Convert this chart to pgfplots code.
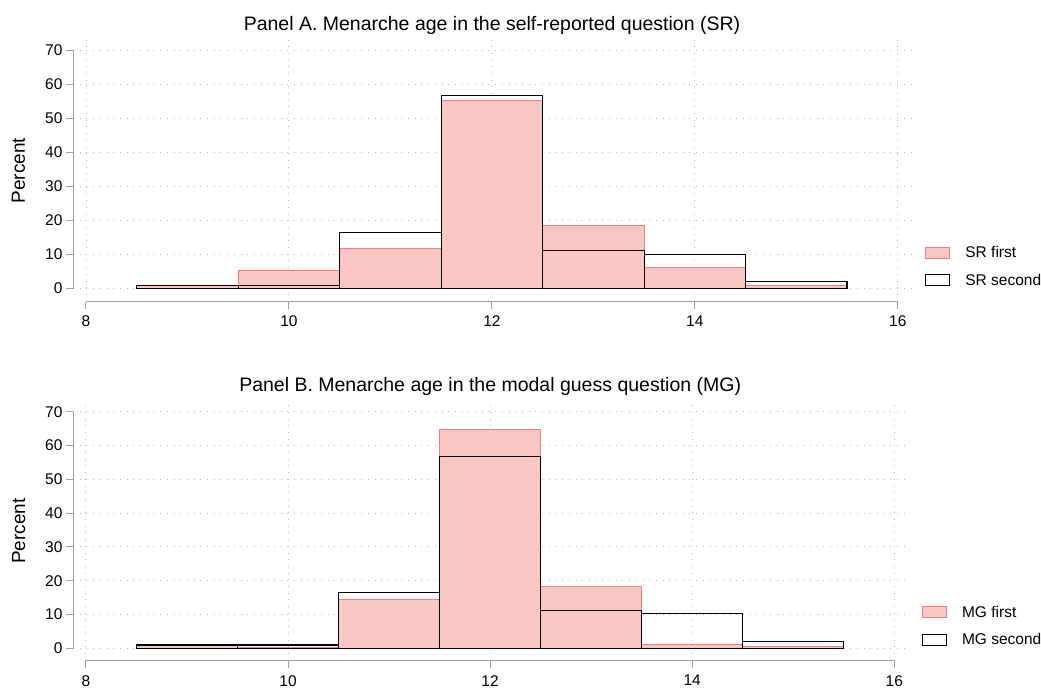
\documentclass[border=0pt]{standalone}
\usepackage{pgfplots}
\pgfplotsset{compat=1.18}
\usepackage{fontspec}
\setmainfont{Liberation Sans}

\definecolor{barpink}{RGB}{249,198,195}
\definecolor{edgepink}{RGB}{242,128,122}
\definecolor{axisgray}{RGB}{160,160,160}
\definecolor{gridgray}{RGB}{185,185,185}

\pgfplotsset{
  menarche/.style={
    scale only axis,
    xmin=7.872, xmax=16.13, ymax=73,
    xtick={8,10,...,16}, ytick={0,10,...,70},
    axis x line*=bottom, axis y line*=left,
    axis line style={draw=none},
    tick align=outside, major tick length=7pt,
    tick style={axisgray, line width=1pt},
    xmajorgrids, ymajorgrids,
    grid style={gridgray, line width=0.9pt, dash pattern=on 1pt off 5.7pt},
    tick label style={font=\fontsize{15.5}{18}\selectfont, black},
    xticklabel style={yshift=-4pt},
    /pgf/number format/assume math mode=true,
    ylabel={Percent},
    label style={font=\fontsize{19}{22}\selectfont},
    title style={font=\fontsize{19.5}{23}\selectfont, at={(0.5,1)}, anchor=base, yshift=4pt},
    legend cell align=left,
    legend style={draw=none, fill=none, inner sep=0pt, row sep=14.5pt,
      nodes={inner sep=0pt, font=\fontsize{15.5}{18}\selectfont}},
  },
  firstbar/.style={ybar, bar width=1, bar shift=0pt, fill=barpink, draw=edgepink, line width=1pt,
    legend image code/.code={\draw[fill=barpink, draw=edgepink, line width=1pt] (0pt,-5.5pt) rectangle (24pt,5.5pt); \path (39pt,0pt);}},
  secondbar/.style={ybar, bar width=1, bar shift=0pt, fill=none, draw=black, line width=1.2pt,
    legend image code/.code={\draw[draw=black, line width=1.2pt] (0pt,-5.5pt) rectangle (24pt,5.5pt); \path (39pt,0pt);}},
}

\begin{document}
\begin{tikzpicture}
\useasboundingbox (0,0) rectangle (1041pt,-689pt);

% Panel A: self-reported menarche age
\begin{axis}[menarche, at={(73pt,-301.6pt)}, anchor=south west,
  width=838pt, height=261.6pt, ymin=-3.8,
  title={Panel A. Menarche age in the self-reported question (SR)},
  ylabel style={at={(axis description cs:-0.0573,0.5)}, anchor=base},
  legend style={at={(axis description cs:1.0167,0.1340)}, anchor=west}]
\addplot[firstbar] coordinates {(9,0.9) (10,5.2) (11,11.7) (12,55.3) (13,18.6) (14,6.3) (15,1.0)};
\addlegendentry{SR first}
\addplot[secondbar] coordinates {(9,1.0) (10,0.9) (11,16.5) (12,56.7) (13,11.3) (14,10.1) (15,2.1)};
\addlegendentry{SR second}
\draw[axisgray, line width=1pt] (axis cs:8,-3.8) -- (axis cs:16,-3.8);
\draw[axisgray, line width=1pt] (axis cs:7.872,0) -- (axis cs:7.872,70);
\end{axis}

% Panel B: modal guess of menarche age
\begin{axis}[menarche, at={(73pt,-660.7pt)}, anchor=south west,
  width=834.4pt, height=259.1pt, ymin=-3.67,
  title={Panel B. Menarche age in the modal guess question (MG)},
  ylabel style={at={(axis description cs:-0.0575,0.5)}, anchor=base},
  legend style={at={(axis description cs:1.0171,0.1340)}, anchor=west}]
\addplot[firstbar] coordinates {(9,0.7) (10,0.2) (11,14.3) (12,64.8) (13,18.2) (14,1.2) (15,0.5)};
\addlegendentry{MG first}
\addplot[secondbar] coordinates {(9,1.0) (10,1.0) (11,16.6) (12,56.7) (13,11.3) (14,10.2) (15,2.1)};
\addlegendentry{MG second}
\draw[axisgray, line width=1pt] (axis cs:8,-3.67) -- (axis cs:16,-3.67);
\draw[axisgray, line width=1pt] (axis cs:7.872,0) -- (axis cs:7.872,70);
\end{axis}
\end{tikzpicture}
\end{document}
